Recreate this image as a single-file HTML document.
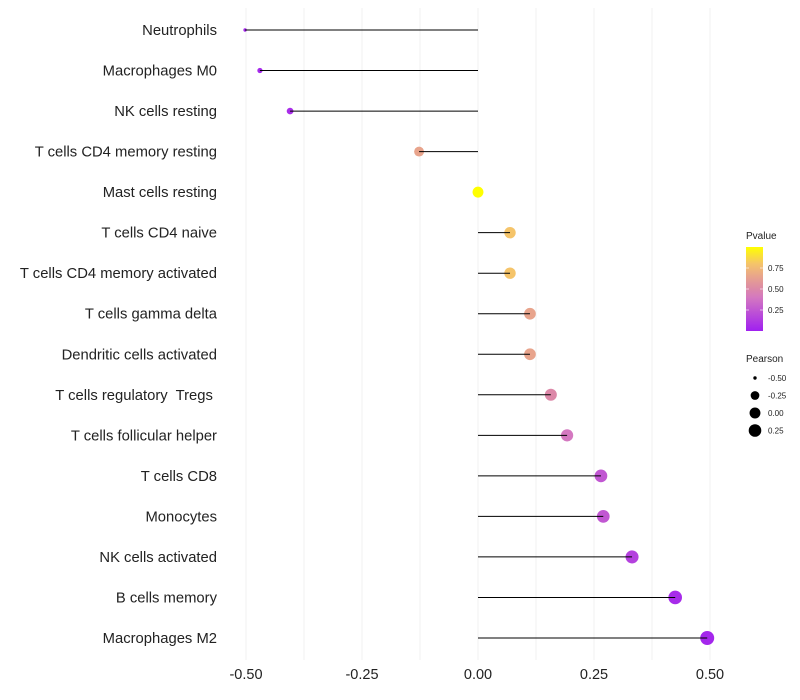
<!DOCTYPE html>
<html><head><meta charset="utf-8"><style>
html,body{margin:0;padding:0;background:#fff;}
svg{display:block;font-family:"Liberation Sans",sans-serif;}
text{white-space:pre;}
</style></head><body>
<svg id="chart" width="800" height="700"></svg>
<script>
const categories=["Neutrophils","Macrophages M0","NK cells resting","T cells CD4 memory resting","Mast cells resting","T cells CD4 naive","T cells CD4 memory activated","T cells gamma delta","Dendritic cells activated","T cells regulatory  Tregs ","T cells follicular helper","T cells CD8","Monocytes","NK cells activated","B cells memory","Macrophages M2"];
const pearson=[-0.502,-0.47,-0.405,-0.127,0.0,0.069,0.069,0.112,0.112,0.157,0.192,0.265,0.27,0.332,0.425,0.494];
const pvalues=[0.03,0.04,0.06,0.65,1.0,0.8,0.8,0.65,0.65,0.5,0.4,0.25,0.25,0.15,0.05,0.03];
const xTicks=[-0.5,-0.25,0,0.25,0.5];
const xTickLabels=["-0.50","-0.25","0.00","0.25","0.50"];
const pTicks=[0.25,0.5,0.75];
const pTickLabels=["0.25","0.50","0.75"];
const sizeLegendVals=[-0.5,-0.25,0,0.25];
const sizeLegendLabels=["-0.50","-0.25","0.00","0.25"];

const NS="http://www.w3.org/2000/svg";
const svg=document.getElementById('chart');
function x(v){return 478+v*464;}
function y(i){return 30+i*(608/15);}
function r(v){return 1.7+5.3*Math.sqrt(Math.max(0,v+0.5));}
const stops=[[0,[160,32,240]],[0.4,[212,120,192]],[0.5,[220,136,168]],[0.65,[232,164,140]],[0.8,[245,196,106]],[1,[255,255,0]]];
function col(p){for(let k=1;k<stops.length;k++){if(p<=stops[k][0]){const a=stops[k-1],b=stops[k];const t=(p-a[0])/(b[0]-a[0]);const c=a[1].map((v,j)=>Math.round(v+(b[1][j]-v)*t));return `rgb(${c})`;}}return 'rgb(255,255,0)';}
function mk(tag,attrs,parent){const e=document.createElementNS(NS,tag);for(const k in attrs)e.setAttribute(k,attrs[k]);(parent||svg).appendChild(e);return e;}

for(let v=-0.5;v<=0.5001;v+=0.125){
  const g=mk('line',{x1:x(v),x2:x(v),y1:8,y2:660,stroke:'#f1f1f1','stroke-width':1});
  
  
}
xTicks.forEach((v,i)=>{
  const t=mk('text',{x:x(v),y:679,'text-anchor':'middle','font-size':14.5,fill:'#222'});
  t.textContent=xTickLabels[i];
  
  
});
categories.forEach((c,i)=>{
  const t=mk('text',{x:217,y:y(i)+5,'text-anchor':'end','font-size':14.8,fill:'#222'});
  t.textContent=c;
  
  
  const p=mk('circle',{cx:x(pearson[i]),cy:y(i),r:r(pearson[i]),fill:col(pvalues[i])});
  
  
  const l=mk('line',{x1:x(0),x2:x(pearson[i]),y1:y(i),y2:y(i),stroke:'#000','stroke-width':1});
  
  
});
const defs=mk('defs',{});
const grad=mk('linearGradient',{id:'pg',x1:0,y1:1,x2:0,y2:0},defs);
stops.forEach(s=>mk('stop',{offset:s[0],'stop-color':col(s[0])},grad));
const lt=mk('text',{x:746,y:239,'font-size':10,fill:'#222'});lt.textContent='Pvalue';


const bar=mk('rect',{x:746,y:247,width:17,height:84,fill:'url(#pg)'});


pTicks.forEach((v,i)=>{
  const yy=331-v*84;
  mk('line',{x1:746,x2:749,y1:yy,y2:yy,stroke:'#fff','stroke-width':0.6});
  mk('line',{x1:760,x2:763,y1:yy,y2:yy,stroke:'#fff','stroke-width':0.6});
  const t=mk('text',{x:768,y:yy+3,'font-size':8,fill:'#222'});t.textContent=pTickLabels[i];
  
  
});
const st=mk('text',{x:746,y:362,'font-size':10,fill:'#222'});st.textContent='Pearson';


sizeLegendVals.forEach((v,i)=>{
  const yy=378+i*17.5;
  const c=mk('circle',{cx:755,cy:yy,r:r(v),fill:'#000'});
  
  
  const t=mk('text',{x:768,y:yy+3,'font-size':8,fill:'#222'});t.textContent=sizeLegendLabels[i];
  
  
});
</script>
</body></html>
